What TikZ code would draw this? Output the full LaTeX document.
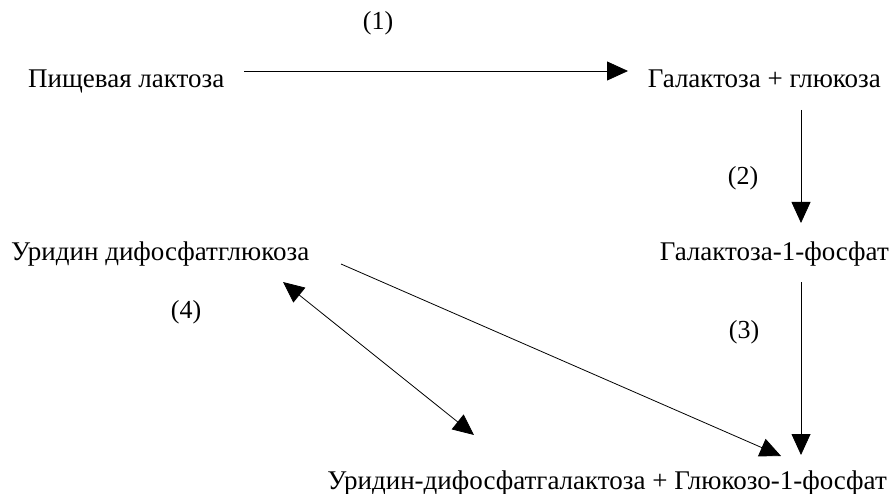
\documentclass[tikz,border=0pt]{standalone}
\usepackage{fontspec}
\setmainfont{Liberation Serif}
\usetikzlibrary{arrows.meta}
\begin{document}
\begin{tikzpicture}[x=1pt,y=-1pt,
  lbl/.style={inner sep=0pt,font=\fontsize{27}{32}\selectfont},
  num/.style={inner sep=0pt,font=\fontsize{26}{30}\selectfont},
  tip/.style={},
  arr/.style={line width=0.8pt,-{Triangle[length=21pt,width=19pt]}},
  darr/.style={line width=0.8pt,{Triangle[length=21pt,width=19pt]}-{Triangle[length=21pt,width=19pt]}}]
  \useasboundingbox[fill=white] (0,0) rectangle (891,494);

  % substances
  \node[lbl,anchor=base west] (lact)   at (28,88)   {Пищевая лактоза};
  \node[lbl,anchor=base east] (galglu) at (881,88)  {Галактоза + глюкоза};
  \node[lbl,anchor=base east] (gal1p)  at (889,261) {Галактоза-1-фосфат};
  \node[lbl,anchor=base west] (udpg)   at (11,261)  {Уридин дифосфатглюкоза};
  \node[lbl,anchor=base east] (prod)   at (887,489) {Уридин-дифосфатгалактоза + Глюкозо-1-фосфат};

  % reaction numbers
  \node[num] (r1) at (378,23)  {(1)};
  \node[num] (r2) at (743,178) {(2)};
  \node[num] (r3) at (744,332) {(3)};
  \node[num] (r4) at (186,312) {(4)};

  % connector ends
  \coordinate (lactE)   at (244,71);
  \coordinate (galgluW) at (628,71);
  \coordinate (galgluS) at (801,110);
  \coordinate (gal1pN)  at (801,223);
  \coordinate (gal1pS)  at (801,282);
  \coordinate (prodN)   at (801,455);
  \coordinate (udpgE)   at (341,264);
  \coordinate (prodNW)  at (781,456);
  \coordinate (udpgS)   at (283,282);
  \coordinate (prodW)   at (474,435);

  % reactions
  \draw[arr]  (lactE) -- (galgluW);
  \draw[arr]  (galgluS) -- (gal1pN);
  \draw[arr]  (gal1pS) -- (prodN);
  \draw[arr]  (udpgE) -- (prodNW);
  \draw[darr] (udpgS) -- (prodW);
\end{tikzpicture}
\end{document}
